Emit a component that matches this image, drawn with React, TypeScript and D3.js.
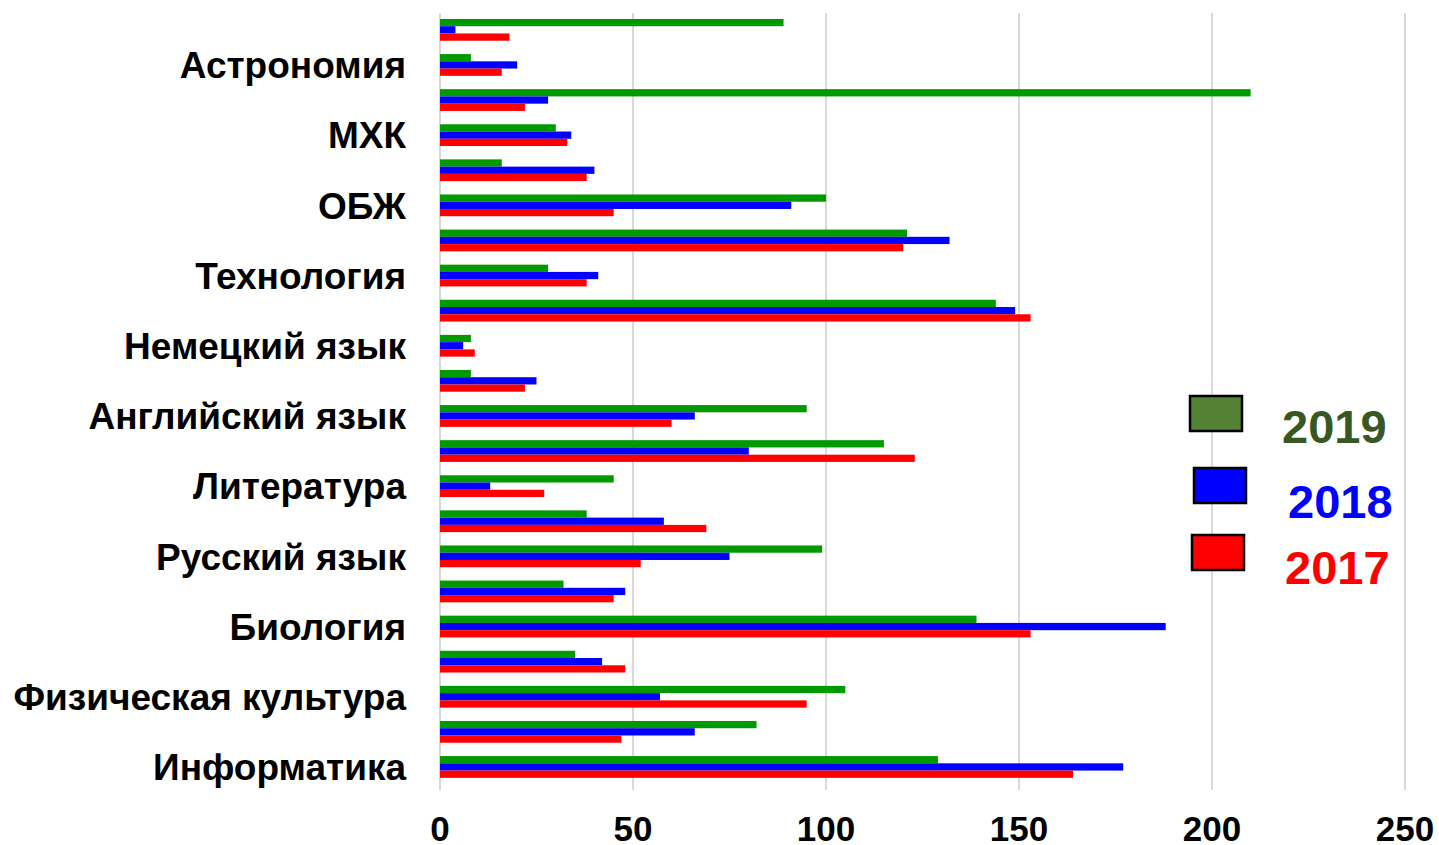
import React from 'react';
import * as d3 from 'd3';

// 22 categories, only every second one has a visible label
const categories = [
  '', 'Астрономия', '', 'МХК', '', 'ОБЖ', '', 'Технология', '', 'Немецкий язык',
  '', 'Английский язык', '', 'Литература', '', 'Русский язык', '', 'Биология',
  '', 'Физическая культура', '', 'Информатика',
];
const values2019 = [89, 8, 210, 30, 16, 100, 121, 28, 144, 8, 8, 95, 115, 45, 38, 99, 32, 139, 35, 105, 82, 129];
const values2018 = [4, 20, 28, 34, 40, 91, 132, 41, 149, 6, 25, 66, 80, 13, 58, 75, 48, 188, 42, 57, 66, 177];
const values2017 = [18, 16, 22, 33, 38, 45, 120, 38, 153, 9, 22, 60, 123, 27, 69, 52, 45, 153, 48, 95, 47, 164];
const xTicks = [0, 50, 100, 150, 200, 250];

const series = [
  { name: '2019', values: values2019, bar: '#009900', box: '#548235', text: '#385723' },
  { name: '2018', values: values2018, bar: '#0000ff', box: '#0000ff', text: '#0000ff' },
  { name: '2017', values: values2017, bar: '#ff0000', box: '#ff0000', text: '#ff0000' },
];

const W = 1439;
const H = 845;
const font = '"Liberation Sans", Arial, sans-serif';

const App = () => {
  const x = d3.scaleLinear().domain([0, 250]).range([440, 1405]);
  const y = d3.scaleBand<number>()
    .domain(d3.range(categories.length))
    .range([12.3, 784.5])
    .paddingInner(0.38)
    .paddingOuter(0.19);
  const sub = d3.scaleBand<string>()
    .domain(series.map(s => s.name))
    .range([0, y.bandwidth()]);

  const legendPos = [
    { bx: 1190, by: 396, tx: 1282, ty: 443 },
    { bx: 1194, by: 468, tx: 1288, ty: 518 },
    { bx: 1192, by: 535, tx: 1285, ty: 584 },
  ];

  const labelSize = 37;

  return (
    <svg width={W} height={H} style={{ position: 'absolute', left: 0, top: 0, background: '#fff' }}>
      <g>
        {xTicks.map(t => (
          <line key={t} x1={x(t)} x2={x(t)} y1={13} y2={790} stroke="#d9d9d9" strokeWidth={2} />
        ))}
      </g>
      <g>
        {categories.map((c, i) =>
          series.map(s => (
            <rect
              key={`${i}-${s.name}`}
              x={x(0)}
              y={(y(i) ?? 0) + (sub(s.name) ?? 0)}
              width={x(s.values[i]) - x(0)}
              height={sub.bandwidth()}
              fill={s.bar}
            />
          ))
        )}
      </g>
      <g fontFamily={font} fontWeight="bold" fontSize={labelSize} fill="#000">
        {categories.map((c, i) => (
          <text key={i} x={406} y={(y(i) ?? 0) + y.bandwidth() / 2 + labelSize * 0.36} textAnchor="end">
            {c}
          </text>
        ))}
      </g>
      <g fontFamily={font} fontWeight="bold" fontSize={35} fill="#000">
        {xTicks.map(t => (
          <text key={t} x={x(t)} y={841} textAnchor="middle">
            {t}
          </text>
        ))}
      </g>
      <g fontFamily={font} fontWeight="bold" fontSize={47}>
        {series.map((s, i) => (
          <g key={s.name}>
            <rect x={legendPos[i].bx} y={legendPos[i].by} width={52} height={35} fill={s.box} stroke="#000" strokeWidth={2.5} />
            <text x={legendPos[i].tx} y={legendPos[i].ty} fill={s.text}>{s.name}</text>
          </g>
        ))}
      </g>
    </svg>
  );
};

export default App;
